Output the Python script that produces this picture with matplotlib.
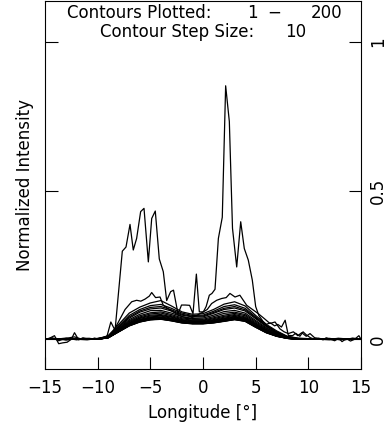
import numpy as np
import matplotlib
matplotlib.use("Agg")
import matplotlib.pyplot as plt

# ---------------- data ----------------
# contour 1 (spiky top profile)
lon_c001 = [-15.0, -14.6, -14.1, -13.7, -13.3, -12.9, -12.5, -12.2, -11.8, -11.4, -11.0,
            -10.6, -10.3, -9.9, -9.5, -9.1, -8.75, -8.35, -7.66, -7.31, -6.93, -6.62,
            -6.30, -5.92, -5.60, -5.19, -4.87, -4.53, -4.15, -3.77, -3.45, -3.07, -2.8,
            -2.37, -2.04, -1.68, -1.27, -0.95, -0.63, -0.35, 0.03, 0.3, 0.6, 0.85, 1.14,
            1.46, 1.83, 2.15, 2.5, 2.8, 3.2, 3.58, 3.92, 4.3, 4.68, 5.0, 5.3, 5.7, 6.0,
            6.4, 6.8, 7.1, 7.45, 7.8, 8.1, 8.5, 8.8, 9.2, 9.5, 9.8, 10.2, 10.6, 11.0,
            11.4, 11.7, 12.1, 12.5, 12.9, 13.2, 13.6, 14.0, 14.4, 14.8, 15.0]
int_c001 = [0.0, 0.003, 0.012, -0.015, -0.012, -0.010, 0.0, 0.022, -0.002, 0.005, 0.002,
            0.0, 0.004, 0.0, 0.003, 0.012, 0.058, 0.030, 0.296, 0.310, 0.386, 0.300,
            0.339, 0.429, 0.440, 0.260, 0.406, 0.431, 0.270, 0.227, 0.130, 0.160, 0.165,
            0.085, 0.115, 0.115, 0.114, 0.086, 0.219, 0.092, 0.092, 0.110, 0.148, 0.154, 0.168,
            0.339, 0.410, 0.852, 0.732, 0.373, 0.243, 0.395, 0.305, 0.266, 0.199, 0.110, 0.080,
            0.060, 0.050, 0.055, 0.045, 0.050, 0.041, 0.064, 0.013, 0.012, 0.020, 0.010,
            0.025, 0.015, 0.005, 0.0, 0.003, -0.002, 0.005, 0.0, -0.005, 0.003, -0.008,
            0.002, -0.006, 0.0, 0.012, 0.0]

# contour 11
lon_c011 = [-15.0, -14.3, -13.7, -13.0, -12.2, -11.5, -10.8, -10.0, -9.3, -8.6, -8.0, -7.4,
            -6.77, -6.3, -5.9, -5.5, -5.1, -4.87, -4.5, -4.08, -3.77, -3.4, -3.13, -2.5,
            -1.87, -1.23, -0.6, 0.03, 0.4, 0.82, 1.3, 1.77, 2.2, 2.56, 3.04, 3.5, 4.15,
            4.78, 5.25, 5.8, 6.36, 6.84, 7.3, 7.7, 8.1, 8.58, 9.0, 9.37, 9.8, 10.16, 10.6,
            11.2, 12.0, 12.8, 13.5, 14.2, 15.0]
int_c011 = [0.0, 0.005, -0.005, 0.003, 0.008, 0.0, 0.003, 0.0, 0.005, 0.020, 0.060, 0.100,
            0.126, 0.131, 0.128, 0.135, 0.145, 0.157, 0.140, 0.142, 0.114, 0.105, 0.098, 0.085,
            0.075, 0.070, 0.080, 0.092, 0.100, 0.120, 0.131, 0.137, 0.140, 0.154, 0.142, 0.148,
            0.114, 0.098, 0.086, 0.070, 0.053, 0.058, 0.035, 0.025, 0.019, 0.025, 0.012, 0.022,
            0.010, 0.019, 0.005, 0.002, 0.0, 0.003, -0.002, 0.004, 0.0]

# contours 21 ... 191 on a 1 degree longitude grid
lon_grid = list(range(-15, 16))
contours_021_191 = [
    [0.002, 0.0, 0.004, -0.002, 0.003, 0.0, 0.012, 0.050, 0.088, 0.108, 0.122, 0.130, 0.112, 0.092, 0.084, 0.086, 0.100, 0.118, 0.126, 0.112, 0.080, 0.050, 0.028, 0.010, 0.004, 0.002, 0.0, 0.003, -0.002, 0.002, 0.0],
    [0.0, 0.003, -0.003, 0.002, 0.0, 0.002, 0.010, 0.045, 0.080, 0.100, 0.113, 0.117, 0.104, 0.088, 0.080, 0.081, 0.094, 0.110, 0.116, 0.104, 0.075, 0.047, 0.025, 0.009, 0.003, 0.0, 0.002, 0.0, 0.003, 0.0, 0.001],
    [0.001, 0.0, 0.002, 0.0, -0.002, 0.003, 0.010, 0.042, 0.075, 0.095, 0.107, 0.110, 0.099, 0.084, 0.077, 0.078, 0.090, 0.104, 0.110, 0.099, 0.072, 0.045, 0.023, 0.008, 0.002, 0.001, 0.0, -0.002, 0.001, 0.0, 0.002],
    [0.0, 0.002, 0.0, 0.003, 0.0, 0.001, 0.009, 0.040, 0.071, 0.091, 0.102, 0.105, 0.095, 0.081, 0.075, 0.075, 0.087, 0.100, 0.105, 0.095, 0.069, 0.043, 0.022, 0.008, 0.002, 0.0, 0.002, 0.0, 0.0, 0.002, 0.0],
    [0.001, 0.0, 0.001, 0.0, 0.002, 0.0, 0.008, 0.037, 0.066, 0.084, 0.096, 0.097, 0.088, 0.076, 0.070, 0.071, 0.081, 0.093, 0.097, 0.088, 0.063, 0.039, 0.020, 0.007, 0.001, 0.002, 0.0, 0.001, 0.0, 0.001, 0.0],
    [0.0, 0.001, 0.0, 0.002, 0.0, 0.001, 0.008, 0.035, 0.062, 0.079, 0.089, 0.092, 0.083, 0.072, 0.067, 0.067, 0.076, 0.087, 0.091, 0.083, 0.059, 0.036, 0.018, 0.006, 0.002, 0.0, 0.001, 0.0, 0.002, 0.0, 0.001],
    [0.002, 0.0, 0.0, 0.001, 0.0, 0.002, 0.007, 0.033, 0.059, 0.075, 0.085, 0.088, 0.079, 0.069, 0.064, 0.064, 0.072, 0.081, 0.087, 0.079, 0.055, 0.033, 0.016, 0.006, 0.001, 0.0, 0.0, 0.002, 0.0, 0.0, 0.0],
    [0.0, 0.0, 0.002, 0.0, 0.001, 0.0, 0.007, 0.031, 0.056, 0.072, 0.081, 0.083, 0.076, 0.066, 0.062, 0.062, 0.069, 0.077, 0.083, 0.075, 0.052, 0.031, 0.015, 0.005, 0.0, 0.001, 0.0, 0.0, 0.001, 0.0, 0.0],
    [0.0, 0.001, 0.0, 0.0, 0.0, 0.001, 0.006, 0.030, 0.054, 0.070, 0.078, 0.080, 0.074, 0.064, 0.060, 0.060, 0.066, 0.074, 0.080, 0.072, 0.050, 0.029, 0.014, 0.005, 0.001, 0.0, 0.001, 0.0, 0.0, 0.001, 0.0],
    [0.001, 0.0, 0.0, 0.001, 0.0, 0.0, 0.006, 0.029, 0.052, 0.067, 0.075, 0.078, 0.071, 0.062, 0.058, 0.058, 0.064, 0.071, 0.077, 0.070, 0.048, 0.028, 0.013, 0.004, 0.0, 0.0, 0.0, 0.001, 0.0, 0.0, 0.001],
    [0.0, 0.0, 0.001, 0.0, 0.0, 0.001, 0.006, 0.028, 0.051, 0.065, 0.073, 0.075, 0.069, 0.061, 0.057, 0.057, 0.062, 0.069, 0.075, 0.068, 0.046, 0.027, 0.013, 0.004, 0.001, 0.0, 0.0, 0.0, 0.001, 0.0, 0.0],
    [0.0, 0.0, 0.0, 0.0, 0.001, 0.0, 0.006, 0.028, 0.049, 0.064, 0.071, 0.073, 0.068, 0.059, 0.056, 0.056, 0.060, 0.067, 0.073, 0.066, 0.045, 0.026, 0.012, 0.004, 0.0, 0.0, 0.001, 0.0, 0.0, 0.0, 0.0],
    [0.0, 0.001, 0.0, 0.0, 0.0, 0.0, 0.006, 0.027, 0.048, 0.062, 0.070, 0.072, 0.066, 0.058, 0.055, 0.055, 0.059, 0.065, 0.071, 0.065, 0.044, 0.025, 0.012, 0.004, 0.0, 0.001, 0.0, 0.0, 0.0, 0.0, 0.0],
    [0.0, 0.0, 0.0, 0.001, 0.0, 0.0, 0.005, 0.026, 0.047, 0.061, 0.068, 0.070, 0.065, 0.057, 0.054, 0.054, 0.058, 0.064, 0.070, 0.063, 0.043, 0.024, 0.011, 0.003, 0.0, 0.0, 0.0, 0.0, 0.001, 0.0, 0.0],
    [0.0, 0.0, 0.0, 0.0, 0.0, 0.0, 0.005, 0.026, 0.047, 0.060, 0.067, 0.069, 0.064, 0.057, 0.053, 0.053, 0.057, 0.062, 0.068, 0.062, 0.042, 0.023, 0.011, 0.003, 0.0, 0.0, 0.0, 0.0, 0.0, 0.0, 0.0],
    [0.0, 0.0, 0.0, 0.0, 0.0, 0.0, 0.005, 0.026, 0.046, 0.059, 0.066, 0.068, 0.063, 0.056, 0.053, 0.053, 0.056, 0.061, 0.067, 0.061, 0.041, 0.023, 0.010, 0.003, 0.0, 0.0, 0.0, 0.0, 0.0, 0.0, 0.0],
    [0.0, 0.0, 0.0, 0.0, 0.0, 0.0, 0.005, 0.025, 0.045, 0.058, 0.066, 0.068, 0.062, 0.055, 0.052, 0.052, 0.055, 0.061, 0.066, 0.061, 0.041, 0.022, 0.010, 0.003, 0.0, 0.0, 0.0, 0.0, 0.0, 0.0, 0.0],
    [0.0, 0.0, 0.0, 0.0, 0.0, 0.0, 0.005, 0.025, 0.045, 0.058, 0.065, 0.067, 0.062, 0.055, 0.052, 0.052, 0.055, 0.060, 0.066, 0.060, 0.040, 0.022, 0.010, 0.003, 0.0, 0.0, 0.0, 0.0, 0.0, 0.0, 0.0],
]

x_ticks = [-15, -10, -5, 0, 5, 10, 15]
y_ticks = [0, 0.5, 1]
y_tick_labels = ["0", "0.5", "1"]

# ---------------- figure ----------------
W, H = 388, 428
fig = plt.figure(figsize=(W / 100, H / 100), dpi=100)
ax = fig.add_axes([45 / W, 1 - 369 / H, 316 / W, 368 / H])

lw = 0.9
for vals in contours_021_191[::-1]:
    ax.plot(lon_grid, vals, color="black", lw=lw)
ax.plot(lon_c011, int_c011, color="black", lw=lw)
ax.plot(lon_c001, int_c001, color="black", lw=lw)

ax.set_xlim(-15, 15)
ax.set_ylim(-0.10, 1.137)
ax.set_xticks(x_ticks)
ax.set_xticklabels([str(t).replace("-", "\u2212") for t in x_ticks])
ax.set_yticks(y_ticks)
ax.set_yticklabels(y_tick_labels)
fs = 12
ax.tick_params(axis="both", direction="in", length=9, width=0.8, labelsize=fs,
               colors="black")
ax.tick_params(axis="x", top=False, bottom=True, pad=7)
ax.tick_params(axis="y", left=True, right=True, labelleft=False, labelright=True,
               labelrotation=90, pad=6)
for lab in ax.get_yticklabels():
    lab.set_verticalalignment("center")
for s in ax.spines.values():
    s.set_linewidth(0.8)

ax.set_xlabel("Longitude [°]", fontsize=fs, labelpad=5)
ax.set_ylabel("Normalized Intensity", fontsize=fs, labelpad=8)

fig.text(67 / W, 1 - 13 / H, "Contours Plotted:", fontsize=fs, ha="left", va="center")
fig.text(252 / W, 1 - 13 / H, "1", fontsize=fs, ha="center", va="center")
fig.text(274 / W, 1 - 13 / H, "\u2212", fontsize=fs, ha="center", va="center")
fig.text(342 / W, 1 - 13 / H, "200", fontsize=fs, ha="right", va="center")
fig.text(100 / W, 1 - 32 / H, "Contour Step Size:", fontsize=fs, ha="left", va="center")
fig.text(306 / W, 1 - 32 / H, "10", fontsize=fs, ha="right", va="center")

fig.savefig("out.png", dpi=100)
